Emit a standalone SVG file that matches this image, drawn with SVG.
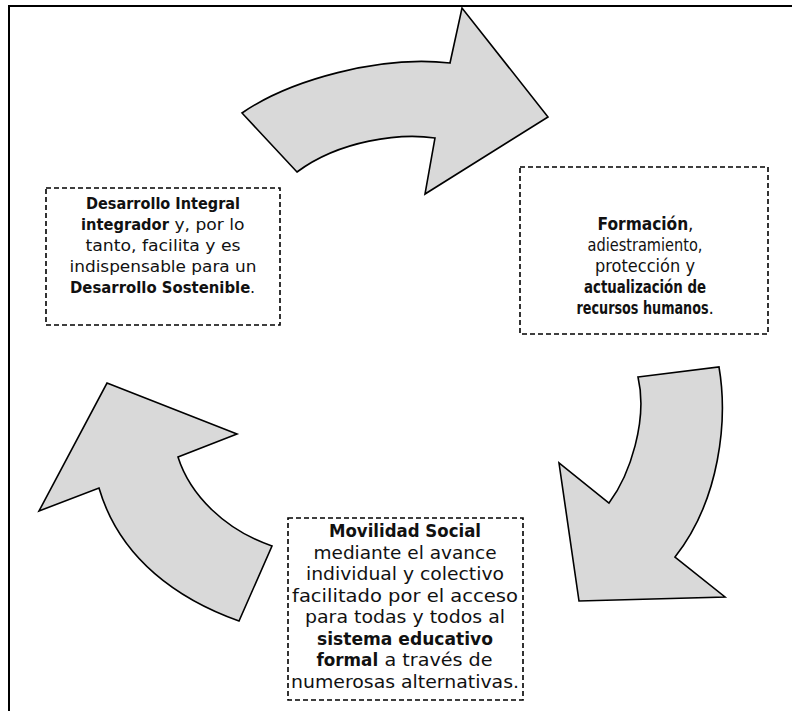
<svg xmlns="http://www.w3.org/2000/svg" width="792" height="711" viewBox="0 0 792 711">
<style>
.frame{fill:none;stroke:#000;stroke-width:2}
.arrow{fill:#d9d9d9;stroke:#000;stroke-width:1.6;stroke-linejoin:miter}
.box{fill:#fff;stroke:#000;stroke-width:1.6;stroke-dasharray:5 3}
.t{font-family:"DejaVu Sans","Verdana",sans-serif;fill:#111;text-anchor:middle}
.s{font-family:"DejaVu Sans","Verdana",sans-serif;fill:#111;text-anchor:start}
.l{font-size:16px}
.r{font-size:17px}
.m{font-size:17.5px}
.b{font-weight:bold}
</style>
<rect width="792" height="711" fill="#fff"/>
<path class="frame" d="M9,711 L9,6 L792,6"/>
<g id="connectors">
<path id="arrow-top" class="arrow" d="M242,113 C290,80 380,55 450,63 L462,8 L548,117 L425,194 L435,138 C400,133 340,140 297,172 Z"/>
<path id="arrow-right" class="arrow" d="M638,377 L719,367 C728,420 720,500 675,557 L725,597 L579,601 L559,463 L609,503 C630,475 648,420 638,377 Z"/>
<path id="arrow-left" class="arrow" d="M107,383 L237,434 L178,457 C190,495 225,530 272,546 L239,621 C180,600 120,560 99,488 L39,511 Z"/>
</g>
<g id="node-left">
<rect class="box" x="46" y="188" width="234" height="137"/>
<text class="t l b" x="163" y="209" textLength="154" lengthAdjust="spacingAndGlyphs">Desarrollo Integral</text>
<text class="s l b" transform="translate(81,230) scale(0.918,1)">integrador</text>
<text class="s l" x="174.5" y="230" textLength="70" lengthAdjust="spacingAndGlyphs">y, por lo</text>
<text class="t l" x="163" y="251" textLength="155" lengthAdjust="spacingAndGlyphs">tanto, facilita y es</text>
<text class="t l" x="163" y="272" textLength="187" lengthAdjust="spacingAndGlyphs">indispensable para un</text>
<text class="s l b" transform="translate(70,293) scale(0.93,1)">Desarrollo Sostenible</text>
<text class="s l" x="250" y="293">.</text>
</g>
<g id="node-right">
<rect class="box" x="520" y="167" width="248" height="167"/>
<text class="s r b" transform="translate(597.5,230) scale(0.909,1)">Formación</text>
<text class="s r" x="688" y="230">,</text>
<text class="t r" x="645" y="251" textLength="115" lengthAdjust="spacingAndGlyphs">adiestramiento,</text>
<text class="t r" x="645" y="272" textLength="100" lengthAdjust="spacingAndGlyphs">protección y</text>
<text class="t r b" x="645" y="293" textLength="122" lengthAdjust="spacingAndGlyphs">actualización de</text>
<text class="s r b" transform="translate(576.5,314) scale(0.753,1)">recursos humanos</text>
<text class="s r" x="708.5" y="314">.</text>
</g>
<g id="node-bottom">
<rect class="box" x="288" y="518" width="235" height="182"/>
<text class="t m b" x="405" y="537" textLength="152" lengthAdjust="spacingAndGlyphs">Movilidad Social</text>
<text class="t m" x="405" y="558.5" textLength="183" lengthAdjust="spacingAndGlyphs">mediante el avance</text>
<text class="t m" x="405" y="580" textLength="198" lengthAdjust="spacingAndGlyphs">individual y colectivo</text>
<text class="t m" x="405" y="601.5" textLength="226" lengthAdjust="spacingAndGlyphs">facilitado por el acceso</text>
<text class="t m" x="405" y="623" textLength="200" lengthAdjust="spacingAndGlyphs">para todas y todos al</text>
<text class="t m b" x="405" y="644.5" textLength="176" lengthAdjust="spacingAndGlyphs">sistema educativo</text>
<text class="s m b" transform="translate(316.5,666) scale(0.96,1)">formal</text>
<text class="s m" x="384.5" y="666" textLength="108" lengthAdjust="spacingAndGlyphs">a través de</text>
<text class="t m" x="405" y="687.5" textLength="228" lengthAdjust="spacingAndGlyphs">numerosas alternativas.</text>
</g>
</svg>
